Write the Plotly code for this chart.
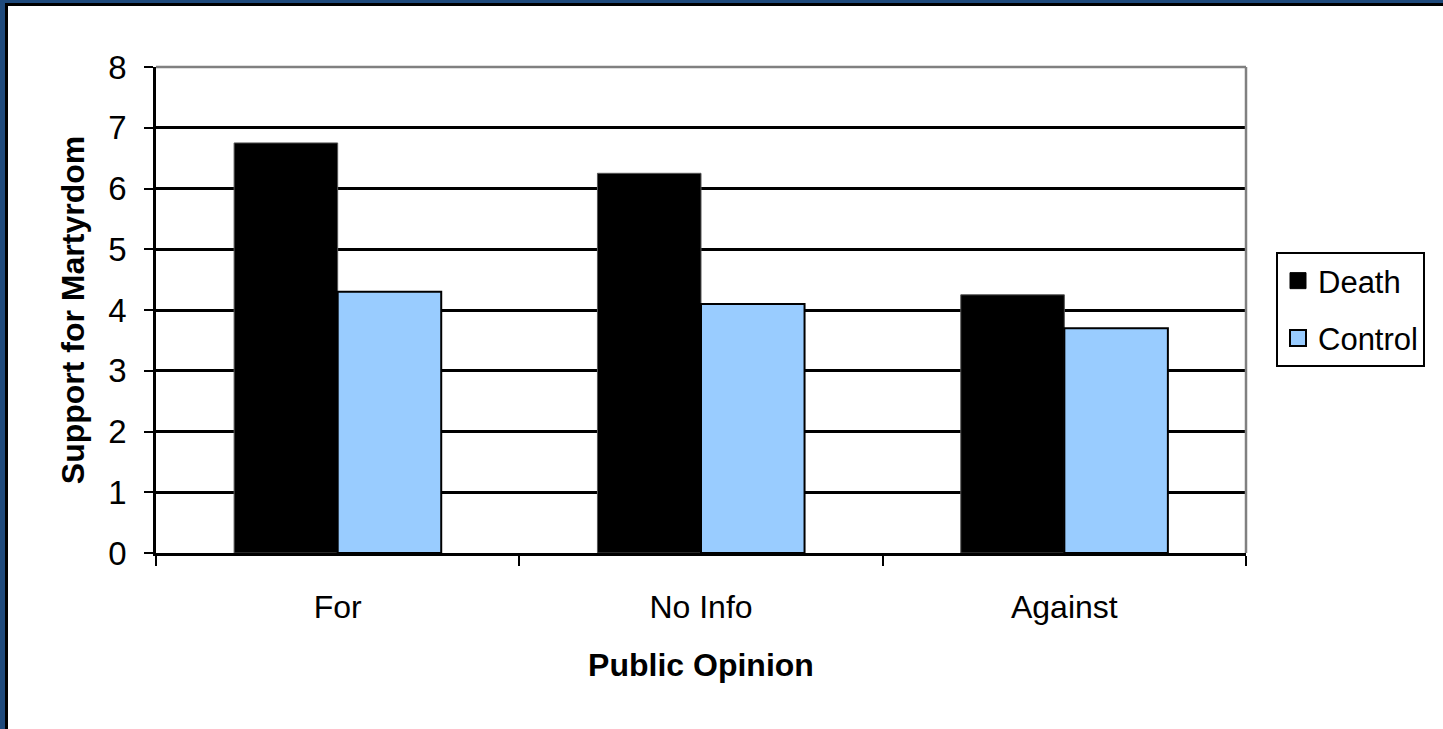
import plotly.graph_objects as go

categories = ["For", "No Info", "Against"]
death = [6.75, 6.25, 4.25]
control = [4.3, 4.1, 3.7]
y_ticks = [0, 1, 2, 3, 4, 5, 6, 7, 8]

W, H = 1443, 729
L, R, T, B = 156, 1246, 67, 553

DEATH_COLOR = "#000000"
CONTROL_COLOR = "#99CCFF"

fig = go.Figure()
fig.add_trace(go.Bar(x=categories, y=death, name="Death", showlegend=False,
                     marker=dict(color=DEATH_COLOR, line=dict(color="#555555", width=1))))
fig.add_trace(go.Bar(x=categories, y=control, name="Control", showlegend=False,
                     marker=dict(color=CONTROL_COLOR, line=dict(color="#000000", width=2))))
# legend entries with larger square swatches
fig.add_trace(go.Scatter(x=[None], y=[None], mode="markers", name="Death", legendgroup="d",
                         marker=dict(symbol="square", size=17, color=DEATH_COLOR,
                                     line=dict(color="#000000", width=1))))
fig.add_trace(go.Scatter(x=[None], y=[None], mode="markers", name="Control", legendgroup="c",
                         marker=dict(symbol="square", size=16, color=CONTROL_COLOR,
                                     line=dict(color="#000000", width=2))))

def px(x):
    return (x - L) / (R - L)

def py(y):
    return (B - y) / (B - T)

shapes = [
    dict(type="line", xref="paper", yref="paper", x0=0, x1=1, y0=1, y1=1,
         line=dict(color="#808080", width=2.5)),
    dict(type="line", xref="paper", yref="paper", x0=1, x1=1, y0=0, y1=1,
         line=dict(color="#808080", width=2.5)),
    dict(type="rect", xref="paper", yref="paper", x0=px(0), x1=px(W), y0=py(0), y1=py(3),
         fillcolor="#1F4A7C", line=dict(width=0), layer="above"),
    dict(type="rect", xref="paper", yref="paper", x0=px(0), x1=px(5), y0=py(0), y1=py(H),
         fillcolor="#1F4A7C", line=dict(width=0), layer="above"),
    dict(type="rect", xref="paper", yref="paper", x0=px(5), x1=px(W), y0=py(3), y1=py(6),
         fillcolor="#000000", line=dict(width=0), layer="above"),
    dict(type="rect", xref="paper", yref="paper", x0=px(5), x1=px(8), y0=py(3), y1=py(H),
         fillcolor="#000000", line=dict(width=0), layer="above"),
]

fig.update_layout(
    width=W, height=H,
    margin=dict(l=L, r=W - R, t=T, b=H - B, autoexpand=False),
    paper_bgcolor="white", plot_bgcolor="white",
    font=dict(family="Arial, Liberation Sans, sans-serif", color="black", size=32),
    barmode="group", bargap=0.43, bargroupgap=0,
    showlegend=True,
    legend=dict(x=px(1276), y=py(252), xanchor="left", yanchor="top",
                bordercolor="black", borderwidth=2, bgcolor="white",
                font=dict(size=31), tracegroupgap=14, itemwidth=30),
    shapes=shapes,
    xaxis=dict(
        tickson="boundaries", ticks="outside", ticklen=10, tickwidth=2, tickcolor="black",
        showline=True, linecolor="black", linewidth=2.5,
        tickfont=dict(size=32), ticklabelstandoff=24,
        title=dict(text="<b>Public Opinion</b>", font=dict(size=32), standoff=30),
    ),
    yaxis=dict(
        range=[0, 8], tickvals=y_ticks, ticks="outside", ticklen=9, tickwidth=2,
        tickcolor="black", showline=True, linecolor="black", linewidth=2.5,
        showgrid=True, gridcolor="black", gridwidth=2.5, zeroline=False,
        tickfont=dict(size=33), ticklabelstandoff=11,
        title=dict(text="<b>Support for Martyrdom</b>", font=dict(size=32), standoff=15),
    ),
)

fig.write_html("out.html", config={"displayModeBar": False},
               post_script="document.body.style.margin='0';")
